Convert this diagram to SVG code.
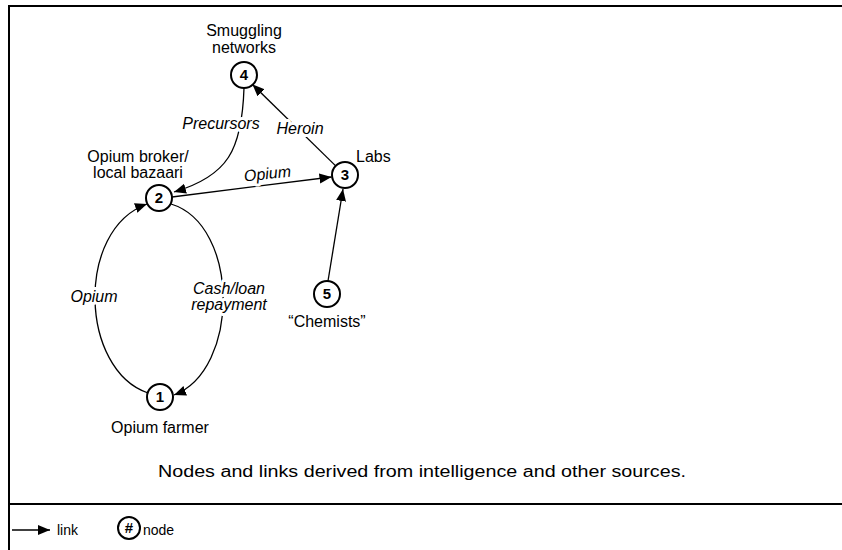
<svg xmlns="http://www.w3.org/2000/svg" width="842" height="550" viewBox="0 0 842 550">
  <defs>
    <marker id="arrow" markerUnits="userSpaceOnUse" markerWidth="14" markerHeight="12" refX="12" refY="5" orient="auto">
      <path d="M0,0 L12,5 L0,10 Z" fill="#000"/>
    </marker>
    <style>
      .frame { stroke: #000; stroke-width: 2; fill: none; }
      .link { stroke: #000; stroke-width: 1.3; fill: none; marker-end: url(#arrow); }
      .node circle { fill: #fff; stroke: #000; stroke-width: 2; }
      .num { font-family: "Liberation Sans", Arial, sans-serif; font-size: 15px; font-weight: bold; text-anchor: middle; }
      .lbl { font-family: "Liberation Sans", Arial, sans-serif; font-size: 16px; fill: #000; }
      .elbl { font-family: "Liberation Sans", Arial, sans-serif; font-size: 16px; font-style: italic; text-anchor: middle; stroke: #fff; stroke-width: 6; paint-order: stroke; stroke-linejoin: round; }
      .legend { font-family: "Liberation Sans", Arial, sans-serif; font-size: 14px; }
    </style>
  </defs>

  <rect width="842" height="550" fill="#fff"/>

  <!-- frame -->
  <path class="frame" d="M9,550 V6 H842"/>
  <path class="frame" d="M9,504 H842" stroke-width="1.5"/>

  <!-- connectors -->
  <g id="links">
    <path class="link" d="M244,88 C242,150 228,176 174,192"/>
    <path class="link" d="M335.7,165.9 L252.5,84.5"/>
    <path class="link" d="M172,197 L331.5,177"/>
    <path class="link" d="M328,281 L343,189"/>
    <path class="link" d="M148,393 C80,370 75,230 147,204"/>
    <path class="link" d="M171,204 C240,225 240,370 174,395"/>
    <text class="elbl" x="221" y="129">Precursors</text>
    <text class="elbl" x="300" y="134">Heroin</text>
    <text class="elbl" x="268" y="179" stroke="none" transform="rotate(-6 268 179)">Opium</text>
    <text class="elbl" x="94" y="302">Opium</text>
    <text class="elbl" x="229" y="294">Cash/loan</text>
    <text class="elbl" x="229" y="310">repayment</text>
  </g>

  <!-- nodes -->
  <g id="node1" class="node">
    <circle cx="160" cy="397" r="13"/>
    <text class="num" x="160" y="402">1</text>
    <text class="lbl" x="160" y="433" text-anchor="middle">Opium farmer</text>
  </g>
  <g id="node2" class="node">
    <circle cx="159" cy="198" r="13"/>
    <text class="num" x="159" y="203">2</text>
    <text class="lbl" x="138" y="162" text-anchor="middle">Opium broker/</text>
    <text class="lbl" x="138" y="178" text-anchor="middle">local bazaari</text>
  </g>
  <g id="node3" class="node">
    <circle cx="345" cy="175" r="13"/>
    <text class="num" x="345" y="180">3</text>
    <text class="lbl" x="356" y="162">Labs</text>
  </g>
  <g id="node4" class="node">
    <circle cx="244" cy="75" r="13"/>
    <text class="num" x="244" y="80">4</text>
    <text class="lbl" x="244" y="36" text-anchor="middle">Smuggling</text>
    <text class="lbl" x="244" y="53" text-anchor="middle">networks</text>
  </g>
  <g id="node5" class="node">
    <circle cx="327" cy="294" r="13"/>
    <text class="num" x="327" y="299">5</text>
    <text class="lbl" x="327" y="327" text-anchor="middle">“Chemists”</text>
  </g>

  <!-- caption -->
  <text class="lbl" x="422" y="477" text-anchor="middle" font-size="20" textLength="528" lengthAdjust="spacingAndGlyphs">Nodes and links derived from intelligence and other sources.</text>

  <!-- legend -->
  <g id="legend">
    <path class="link" d="M12,530 L50,530"/>
    <text class="legend" x="57" y="535">link</text>
    <g class="node">
      <circle cx="129" cy="528" r="11" stroke-width="1.5"/>
      <text class="num" x="129" y="533" font-size="12">#</text>
    </g>
    <text class="legend" x="143" y="535">node</text>
  </g>
</svg>
